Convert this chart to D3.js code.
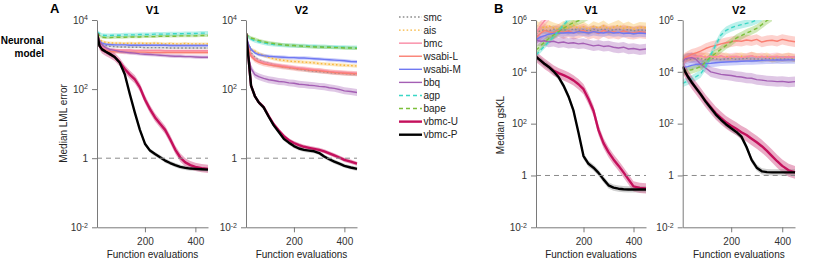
<!DOCTYPE html>
<html>
<head>
<meta charset="utf-8">
<script src="https://cdn.jsdelivr.net/npm/d3@7"></script>
<style>
  body { margin: 0; background: #fff; }
  svg text { font-family: "Liberation Sans", Arial, sans-serif; }
</style>
</head>
<body>
<div id="chart"></div>
<script>
// function evaluations (shared grid), values are log10 of the median
var evals = [10,20,30,45,60,80,100,120,140,160,180,200,220,240,260,280,300,320,340,360,380,400,425,450];
var methods = ["smc","ais","bmc","wsabi-L","wsabi-M","bbq","agp","bape","vbmc-U","vbmc-P"];

// A - V1 (LML error)
var lmlV1_smc    = [3.6,3.4,3.3,3.26,3.24,3.23,3.22,3.22,3.21,3.21,3.21,3.2,3.2,3.2,3.2,3.2,3.19,3.19,3.19,3.19,3.19,3.19,3.19,3.19];
var lmlV1_ais    = [3.6,3.45,3.38,3.35,3.34,3.33,3.33,3.32,3.33,3.32,3.33,3.32,3.32,3.33,3.32,3.31,3.32,3.31,3.31,3.32,3.31,3.31,3.31,3.31];
var lmlV1_bmc    = [3.6,3.3,3.2,3.17,3.15,3.14,3.13,3.13,3.13,3.12,3.12,3.12,3.12,3.12,3.12,3.11,3.11,3.11,3.11,3.11,3.11,3.11,3.11,3.11];
var lmlV1_wsabiL = [3.6,3.25,3.15,3.11,3.09,3.08,3.08,3.07,3.07,3.07,3.07,3.07,3.06,3.06,3.06,3.06,3.06,3.06,3.06,3.06,3.06,3.06,3.06,3.06];
var lmlV1_wsabiM = [3.6,3.4,3.33,3.3,3.29,3.28,3.28,3.28,3.27,3.27,3.27,3.27,3.27,3.27,3.27,3.27,3.26,3.26,3.26,3.26,3.26,3.26,3.26,3.26];
var lmlV1_bbq    = [3.62,3.4,3.28,3.2,3.15,3.12,3.09,3.07,3.05,3.04,3.02,3.01,3.0,2.99,2.98,2.97,2.96,2.95,2.95,2.94,2.94,2.93,2.92,2.92];
var lmlV1_agp    = [3.66,3.6,3.56,3.55,3.55,3.56,3.56,3.57,3.57,3.57,3.58,3.58,3.58,3.59,3.59,3.59,3.6,3.6,3.6,3.61,3.61,3.61,3.62,3.62];
var lmlV1_bape   = [3.62,3.55,3.5,3.49,3.49,3.5,3.5,3.5,3.51,3.51,3.51,3.52,3.52,3.52,3.53,3.53,3.53,3.53,3.54,3.54,3.54,3.54,3.55,3.55];
var lmlV1_vbmcU  = [3.62,3.25,3.15,3.08,3.02,2.93,2.78,2.58,2.42,2.28,2.05,1.70,1.42,1.18,1.0,0.82,0.55,0.25,0.02,-0.12,-0.2,-0.25,-0.29,-0.31];
var lmlV1_vbmcP  = [3.62,3.25,3.15,3.08,3.02,2.93,2.77,2.43,1.86,1.32,0.82,0.42,0.22,0.12,0.03,-0.07,-0.14,-0.2,-0.25,-0.28,-0.3,-0.31,-0.32,-0.33];

// A - V2
var lmlV2_smc    = [3.57,3.25,3.05,2.92,2.84,2.78,2.74,2.7,2.67,2.64,2.62,2.6,2.58,2.56,2.54,2.52,2.51,2.5,2.48,2.47,2.46,2.45,2.44,2.43];
var lmlV2_ais    = [3.57,3.3,3.15,3.1,3.03,2.97,2.92,2.88,2.85,2.83,2.81,2.8,2.79,2.78,2.77,2.76,2.74,2.73,2.72,2.71,2.7,2.69,2.68,2.67];
var lmlV2_bmc    = [3.57,3.2,3.0,2.88,2.82,2.77,2.74,2.71,2.69,2.67,2.65,2.63,2.61,2.6,2.58,2.56,2.55,2.53,2.51,2.5,2.49,2.48,2.47,2.46];
var lmlV2_wsabiL = [3.57,3.15,2.95,2.84,2.78,2.73,2.7,2.68,2.66,2.64,2.62,2.6,2.58,2.57,2.55,2.54,2.53,2.51,2.5,2.48,2.47,2.46,2.45,2.44];
var lmlV2_wsabiM = [3.57,3.3,3.15,3.05,3.0,2.97,2.95,2.94,2.93,2.92,2.91,2.91,2.9,2.9,2.89,2.88,2.87,2.86,2.85,2.84,2.83,2.82,2.8,2.79];
var lmlV2_bbq    = [3.57,2.95,2.6,2.42,2.36,2.31,2.27,2.25,2.22,2.21,2.18,2.17,2.14,2.13,2.11,2.1,2.08,2.07,2.04,2.02,1.99,1.95,1.93,1.9];
var lmlV2_agp    = [3.6,3.5,3.45,3.4,3.37,3.34,3.31,3.29,3.28,3.27,3.26,3.26,3.25,3.25,3.24,3.24,3.23,3.23,3.22,3.22,3.21,3.21,3.2,3.2];
var lmlV2_bape   = [3.62,3.52,3.48,3.45,3.41,3.37,3.34,3.32,3.3,3.28,3.27,3.26,3.25,3.24,3.23,3.22,3.22,3.21,3.21,3.2,3.2,3.19,3.19,3.18];
var lmlV2_vbmcU  = [3.62,2.9,2.1,1.8,1.62,1.48,1.22,0.98,0.8,0.64,0.52,0.44,0.38,0.33,0.3,0.27,0.24,0.2,0.14,0.08,0.02,-0.05,-0.1,-0.16];
var lmlV2_vbmcP  = [3.62,2.9,2.1,1.8,1.62,1.47,1.2,0.95,0.76,0.56,0.45,0.35,0.28,0.24,0.22,0.2,0.15,0.05,-0.03,-0.1,-0.16,-0.22,-0.27,-0.31];

// B - V1 (gsKL), null = above the plotted range
var klV1_smc    = [5.45,5.55,5.6,5.62,5.58,5.65,5.6,5.63,5.58,5.66,5.6,5.62,5.57,5.64,5.6,5.66,5.58,5.62,5.65,5.6,5.63,5.58,5.62,5.6];
var klV1_ais    = [5.8,5.72,5.75,5.68,5.78,5.7,5.65,5.76,5.68,5.8,5.66,5.74,5.62,5.75,5.68,5.78,5.65,5.72,5.8,5.67,5.74,5.64,5.72,5.7];
var klV1_bmc    = [5.5,5.65,5.8,5.98,6.15,6.4,null,null,null,null,null,null,null,null,null,null,null,null,null,null,null,null,null,null];
var klV1_wsabiL = [5.3,5.4,5.5,5.6,5.55,5.5,5.6,5.52,5.58,5.5,5.55,5.6,5.5,5.56,5.48,5.6,5.52,5.55,5.5,5.58,5.52,5.5,5.55,5.52];
var klV1_wsabiM = [5.23,5.3,5.35,5.4,5.45,5.48,5.5,5.5,5.52,5.5,5.55,5.53,5.5,5.55,5.52,5.5,5.54,5.5,5.52,5.48,5.5,5.47,5.5,5.48];
var klV1_bbq    = [5.23,5.2,5.18,5.2,5.15,5.18,5.12,5.15,5.1,5.12,5.08,5.1,5.05,5.0,5.03,4.98,5.0,4.95,4.92,4.95,4.88,4.9,4.85,4.88];
var klV1_agp    = [4.65,4.75,4.85,5.0,5.15,5.35,5.58,5.8,6.02,6.2,null,null,null,null,null,null,null,null,null,null,null,null,null,null];
var klV1_bape   = [4.84,4.92,5.02,5.15,5.28,5.42,5.55,5.68,5.8,5.9,5.97,6.05,6.15,null,null,null,null,null,null,null,null,null,null,null];
var klV1_vbmcU  = [4.58,4.5,4.42,4.3,4.2,4.05,3.95,3.87,3.78,3.67,3.52,3.33,2.95,2.5,1.75,1.25,0.9,0.62,0.38,0.12,-0.15,-0.42,-0.48,-0.5];
var klV1_vbmcP  = [4.58,4.5,4.42,4.3,4.2,4.02,3.8,3.47,3.05,2.5,1.65,0.75,0.45,0.3,0.1,-0.15,-0.38,-0.47,-0.51,-0.53,-0.54,-0.54,-0.54,-0.54];

// B - V2
var klV2_smc    = [4.4,4.45,4.5,4.48,4.52,4.5,4.48,4.52,4.5,4.47,4.5,4.52,4.48,4.5,4.52,4.49,4.5,4.48,4.51,4.5,4.47,4.5,4.48,4.5];
var klV2_ais    = [4.5,4.55,4.6,4.55,4.62,4.58,4.6,4.55,4.62,4.57,4.6,4.52,4.58,4.6,4.55,4.62,4.58,4.55,4.6,4.5,4.57,4.55,4.6,4.52];
var klV2_bmc    = [4.45,4.5,4.55,4.6,4.58,4.62,4.55,4.6,4.57,4.62,4.55,4.58,4.6,4.55,4.58,4.62,4.56,4.6,4.55,4.58,4.6,4.55,4.58,4.56];
var klV2_wsabiL = [4.46,4.55,4.6,4.68,4.72,4.8,4.9,4.97,5.02,5.08,5.12,5.16,5.2,5.18,5.23,5.2,5.25,5.15,5.2,5.22,5.18,5.25,5.2,5.16];
var klV2_wsabiM = [4.15,4.18,4.2,4.25,4.28,4.3,4.32,4.33,4.35,4.37,4.38,4.39,4.4,4.41,4.42,4.42,4.43,4.44,4.45,4.45,4.46,4.45,4.46,4.46];
var klV2_bbq    = [4.39,4.5,4.53,4.55,4.5,4.3,4.15,4.0,3.95,3.9,3.88,3.86,3.82,3.8,3.76,3.75,3.7,3.68,3.65,3.64,3.62,3.63,3.6,3.62];
var klV2_agp    = [3.55,3.6,3.64,3.72,3.8,3.92,4.2,4.65,5.05,5.42,5.6,5.7,5.77,5.82,5.87,5.92,6.0,6.1,null,null,null,null,null,null];
var klV2_bape   = [4.0,4.02,4.05,4.08,4.12,4.2,4.38,4.58,4.72,4.87,5.02,5.15,5.3,5.4,5.5,5.58,5.68,5.82,5.98,6.1,null,null,null,null];
var klV2_vbmcU  = [4.2,4.0,3.82,3.6,3.4,3.14,2.87,2.63,2.4,2.22,2.05,1.92,1.8,1.67,1.56,1.42,1.28,1.13,0.95,0.75,0.55,0.37,0.2,0.12];
var klV2_vbmcP  = [4.2,4.0,3.82,3.6,3.4,3.14,2.85,2.6,2.35,2.15,1.97,1.82,1.68,1.5,1.1,0.6,0.3,0.16,0.13,0.12,0.12,0.12,0.12,0.12];

// half width of the shaded bands (log10), in the order of methods
var bandA1 = [0.03,0.04,0.04,0.06,0.04,0.05,0.06,0.04,0.12,0.06];
var bandA2 = [0.05,0.05,0.06,0.07,0.05,0.1,0.06,0.05,0.06,0.06];
var bandB1 = [0.15,0.2,0.2,0.25,0.15,0.2,0.1,0.15,0.2,0.12];
var bandB2 = [0.12,0.15,0.15,0.2,0.15,0.2,0.15,0.15,0.25,0.12];

var ticksA = [1e-2, 1, 1e2, 1e4];
var ticksB = [1e-2, 1, 1e2, 1e4, 1e6];
var xTicks = [200, 400];

// styles
var colors = {"smc":"#8c8c8c","ais":"#f7b63c","bmc":"#f98aa4","wsabi-L":"#fa7f72","wsabi-M":"#6f78f2",
              "bbq":"#a45fb4","agp":"#3bd7c6","bape":"#7cbf3a","vbmc-U":"#c4105c","vbmc-P":"#000000"};
var dashes = {"smc":"1.6,2.2","ais":"1.6,2.2","agp":"4,3","bape":"4,3"};
var widths = {"vbmc-U":2.4,"vbmc-P":2.4};

var panels = [
  {title:"V1", x0:97,  x1:208, top:20, bottom:227.3, dom:[1e-2,1e4], ticks:ticksA, band:bandA1,
   series:[lmlV1_smc,lmlV1_ais,lmlV1_bmc,lmlV1_wsabiL,lmlV1_wsabiM,lmlV1_bbq,lmlV1_agp,lmlV1_bape,lmlV1_vbmcU,lmlV1_vbmcP]},
  {title:"V2", x0:246, x1:357, top:20, bottom:227.3, dom:[1e-2,1e4], ticks:ticksA, band:bandA2,
   series:[lmlV2_smc,lmlV2_ais,lmlV2_bmc,lmlV2_wsabiL,lmlV2_wsabiM,lmlV2_bbq,lmlV2_agp,lmlV2_bape,lmlV2_vbmcU,lmlV2_vbmcP]},
  {title:"V1", x0:536, x1:646, top:20, bottom:227.3, dom:[1e-2,1e6], ticks:ticksB, band:bandB1,
   series:[klV1_smc,klV1_ais,klV1_bmc,klV1_wsabiL,klV1_wsabiM,klV1_bbq,klV1_agp,klV1_bape,klV1_vbmcU,klV1_vbmcP]},
  {title:"V2", x0:682.7, x1:795, top:20, bottom:227.3, dom:[1e-2,1e6], ticks:ticksB, band:bandB2,
   series:[klV2_smc,klV2_ais,klV2_bmc,klV2_wsabiL,klV2_wsabiM,klV2_bbq,klV2_agp,klV2_bape,klV2_vbmcU,klV2_vbmcP]}
];

var svg = d3.select("#chart").append("svg")
    .attr("width", 830)
    .attr("height", 263);

var axisColor = "#7a7a7a";

function supLabels(sel) {
  sel.each(function(d) {
    var t = d3.select(this);
    var e = Math.round(Math.log10(d));
    t.text(null);
    if (e === 0) { t.text("1"); return; }
    t.append("tspan").text("10");
    t.append("tspan").attr("dy", "-0.5em").style("font-size", "7px").text(e);
  });
}

panels.forEach(function(p, pi) {
  var x = d3.scaleLinear().domain([10, 450]).range([p.x0, p.x1]);
  var y = d3.scaleLog().domain(p.dom).range([p.bottom, p.top]);

  var clipId = "clip" + pi;
  svg.append("clipPath").attr("id", clipId)
    .append("rect")
      .attr("x", p.x0).attr("y", p.top)
      .attr("width", p.x1 - p.x0 + 3).attr("height", p.bottom - p.top);

  var g = svg.append("g").attr("clip-path", "url(#" + clipId + ")");

  // reference line at 1
  svg.append("line")
    .attr("x1", p.x0).attr("x2", p.x1)
    .attr("y1", y(1)).attr("y2", y(1))
    .style("stroke", "#8a8a8a")
    .style("stroke-width", 1)
    .style("stroke-dasharray", "5,4");

  methods.forEach(function(m, i) {
    var vals = p.series[i];
    var h = p.band[i];
    var pts = evals.map(function(e, k) { return {x: e, v: vals[k]}; });

    var area = d3.area()
      .defined(function(d) { return d.v !== null; })
      .x(function(d) { return x(d.x); })
      .y0(function(d) { return y(Math.pow(10, d.v - h)); })
      .y1(function(d) { return y(Math.pow(10, d.v + h)); });

    g.append("path")
      .datum(pts)
      .attr("d", area)
      .style("fill", m === "vbmc-P" ? "#777" : colors[m])
      .style("opacity", 0.35);
  });

  methods.forEach(function(m, i) {
    var vals = p.series[i];
    var pts = evals.map(function(e, k) { return {x: e, v: vals[k]}; });
    var line = d3.line()
      .defined(function(d) { return d.v !== null; })
      .x(function(d) { return x(d.x); })
      .y(function(d) { return y(Math.pow(10, d.v)); });

    g.append("path")
      .datum(pts)
      .attr("d", line)
      .style("fill", "none")
      .style("stroke", colors[m])
      .style("stroke-width", widths[m] || 1.4)
      .style("stroke-dasharray", dashes[m] || null)
      .style("stroke-linejoin", "round");
  });

  // axes
  var yAxis = svg.append("g")
    .attr("transform", "translate(" + p.x0 + ",0)")
    .call(d3.axisLeft(y).tickValues(p.ticks).tickSize(5).tickSizeOuter(0).tickPadding(4));
  yAxis.selectAll("text").call(supLabels);

  var xAxis = svg.append("g")
    .attr("transform", "translate(0," + p.bottom + ")")
    .call(d3.axisBottom(x).tickValues(xTicks).tickSize(5).tickSizeOuter(0).tickPadding(6));

  [yAxis, xAxis].forEach(function(a) {
    a.select(".domain").style("stroke", axisColor);
    a.selectAll(".tick line").style("stroke", axisColor);
    a.selectAll("text").style("font-size", "10px").style("fill", "#333")
      .style("font-family", "'Liberation Sans', Arial, sans-serif");
  });

  // panel title
  svg.append("text")
    .attr("x", (p.x0 + p.x1) / 2)
    .attr("y", 14)
    .attr("text-anchor", "middle")
    .style("font-size", "11px")
    .style("font-weight", "bold")
    .text(p.title);

  // x label
  svg.append("text")
    .attr("x", (p.x0 + p.x1) / 2)
    .attr("y", 258)
    .attr("text-anchor", "middle")
    .style("font-size", "10px")
    .style("fill", "#222")
    .text("Function evaluations");
});

// y labels
svg.append("text")
  .attr("transform", "translate(66.5,123.5) rotate(-90)")
  .attr("text-anchor", "middle")
  .style("font-size", "10px")
  .style("fill", "#222")
  .text("Median LML error");

svg.append("text")
  .attr("transform", "translate(503.5,125) rotate(-90)")
  .attr("text-anchor", "middle")
  .style("font-size", "10px")
  .style("fill", "#222")
  .text("Median gsKL");

// panel letters and row label
svg.append("text").attr("x", 50).attr("y", 13)
  .style("font-size", "13px").style("font-weight", "bold").text("A");
svg.append("text").attr("x", 494).attr("y", 13)
  .style("font-size", "13px").style("font-weight", "bold").text("B");

svg.append("text").attr("x", 44).attr("y", 44)
  .attr("text-anchor", "end").style("font-size", "10px").style("font-weight", "bold").text("Neuronal");
svg.append("text").attr("x", 44).attr("y", 57)
  .attr("text-anchor", "end").style("font-size", "10px").style("font-weight", "bold").text("model");

// legend
var legendY = d3.scaleLinear().domain([0, 9]).range([17, 134.7]);
var legend = svg.append("g");
methods.forEach(function(m, i) {
  var ly = legendY(i);
  legend.append("line")
    .attr("x1", 399).attr("x2", 422)
    .attr("y1", ly).attr("y2", ly)
    .style("stroke", colors[m])
    .style("stroke-width", widths[m] || 1.4)
    .style("stroke-dasharray", dashes[m] || null);
  legend.append("text")
    .attr("x", 423.5)
    .attr("y", ly + 3.6)
    .style("font-size", "10px")
    .style("fill", "#222")
    .text(m);
});
</script>
</body>
</html>
